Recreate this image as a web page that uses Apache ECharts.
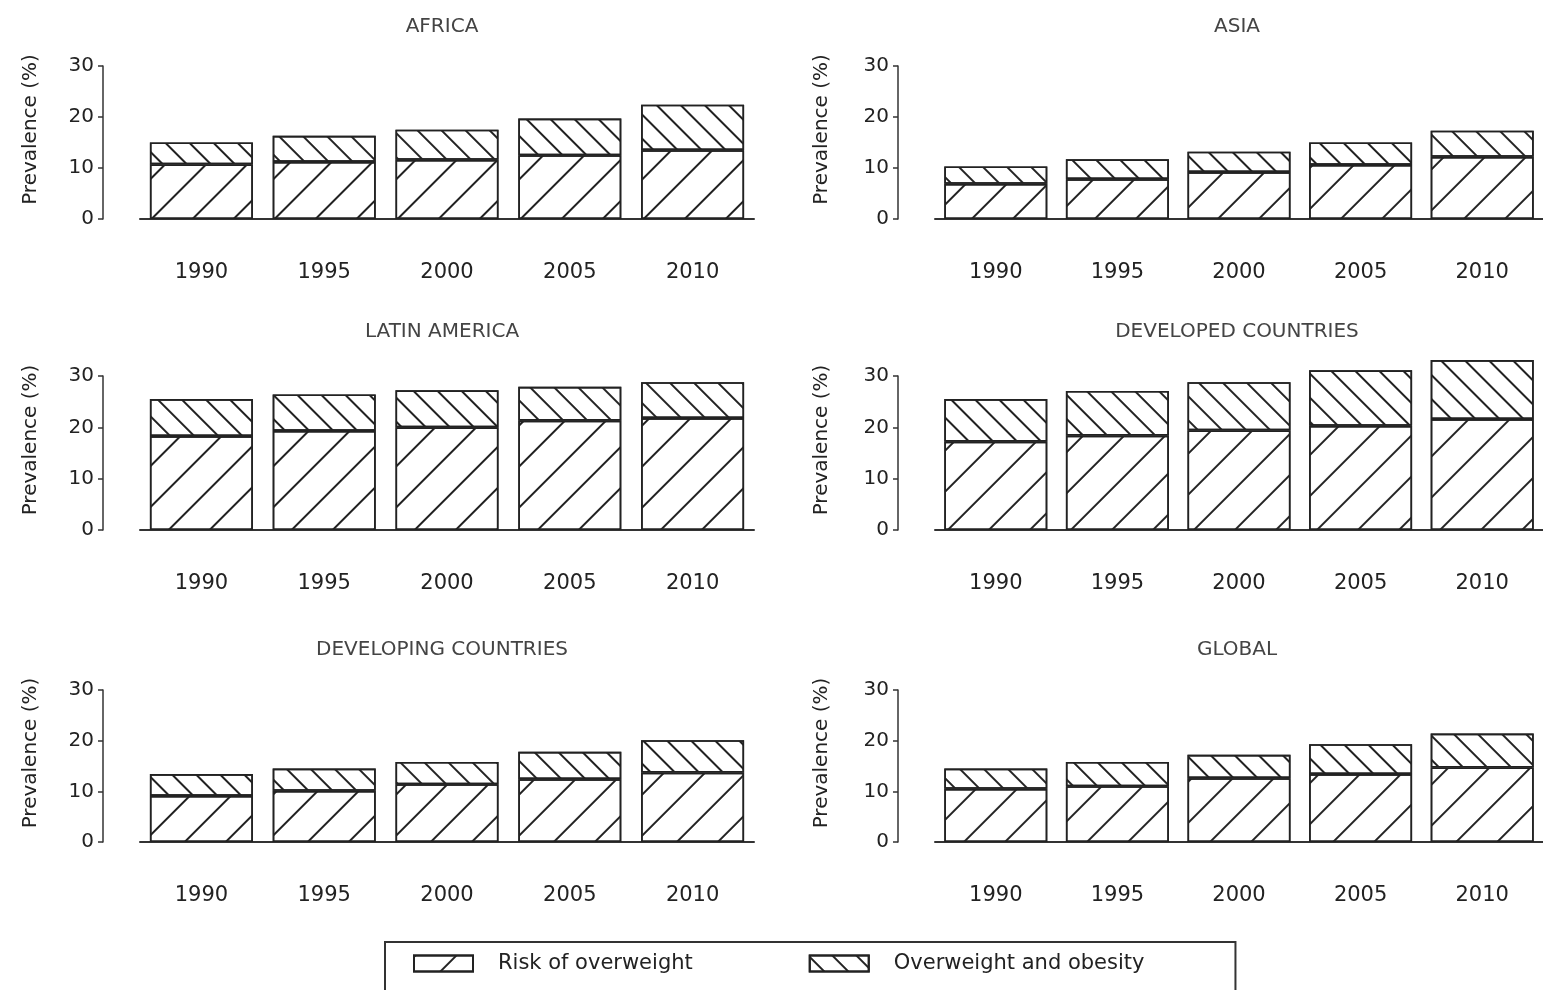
<!DOCTYPE html>
<html>
<head>
<meta charset="utf-8">
<script src="https://cdn.jsdelivr.net/npm/echarts@6/dist/echarts.min.js"></script>
<style>html,body{margin:0;padding:0;background:#fff}#c{width:1543px;height:990px}</style>
</head>
<body>
<div id="c"></div>
<script>
// ---- data ----
const years = ['1990', '1995', '2000', '2005', '2010'];
const regions = ['AFRICA', 'ASIA', 'LATIN AMERICA', 'DEVELOPED COUNTRIES', 'DEVELOPING COUNTRIES', 'GLOBAL'];
const seriesNames = ['Risk of overweight', 'Overweight and obesity'];
const yAxisTitle = 'Prevalence (%)';
const yMin = 0, yMax = 30, yInterval = 10;

const riskAfrica = [10.7, 11.2, 11.6, 12.5, 13.5];
const obeseAfrica = [4.3, 5.1, 5.9, 7.2, 8.9];
const riskAsia = [6.9, 7.8, 9.2, 10.6, 12.2];
const obeseAsia = [3.4, 3.9, 4.0, 4.4, 5.1];
const riskLatin = [18.3, 19.3, 20.0, 21.3, 21.8];
const obeseLatin = [7.2, 7.1, 7.2, 6.6, 7.0];
const riskDeveloped = [17.2, 18.4, 19.4, 20.3, 21.6];
const obeseDeveloped = [8.3, 8.7, 9.4, 10.8, 11.5];
const riskDeveloping = [9.1, 10.1, 11.4, 12.4, 13.7];
const obeseDeveloping = [4.3, 4.4, 4.4, 5.4, 6.4];
const riskGlobal = [10.5, 11.0, 12.6, 13.4, 14.7];
const obeseGlobal = [4.0, 4.8, 4.6, 5.9, 6.7];

const riskByRegion = [riskAfrica, riskAsia, riskLatin, riskDeveloped, riskDeveloping, riskGlobal];
const obeseByRegion = [obeseAfrica, obeseAsia, obeseLatin, obeseDeveloped, obeseDeveloping, obeseGlobal];

// ---- layout ----
const FONT = "'DejaVu Sans', sans-serif";
const colLeft = [140, 935];
const colWidth = [614, 612];
const colCenter = [442, 1237];
const rowTop = [66, 376, 690];
const rowHeight = [153, 154, 152];
const titleTop = [17, 322, 640];

const grids = [], xAxes = [], yAxes = [], series = [], titles = [];
regions.forEach((name, i) => {
  const col = i % 2, row = Math.floor(i / 2);
  grids.push({ left: colLeft[col], top: rowTop[row], width: colWidth[col], height: rowHeight[row] });
  titles.push({
    text: name, left: colCenter[col], top: titleTop[row], textAlign: 'center', padding: 0,
    textStyle: { fontFamily: FONT, fontSize: 20, fontWeight: 'normal', color: '#444' }
  });
  xAxes.push({
    type: 'category', gridIndex: i, data: years,
    axisLine: { show: true, lineStyle: { color: '#333', width: 2 } },
    axisTick: { show: false },
    axisLabel: { margin: 43, fontFamily: FONT, fontSize: 21, color: '#222' }
  });
  yAxes.push({
    type: 'value', gridIndex: i, min: yMin, max: yMax, interval: yInterval, offset: 37,
    name: yAxisTitle, nameLocation: 'middle', nameGap: col === 0 ? 62 : 66,
    nameTextStyle: { fontFamily: FONT, fontSize: 20, color: '#222', padding: [0, 0, 0, 26] },
    axisLine: { show: true, lineStyle: { color: '#333', width: 1.5 } },
    axisTick: { show: true, length: 5, lineStyle: { color: '#333', width: 1.5 } },
    axisLabel: { margin: 9, fontFamily: FONT, fontSize: 20, color: '#222' },
    splitLine: { show: false }
  });
  series.push({
    name: seriesNames[0], type: 'bar', stack: 's' + i, xAxisIndex: i, yAxisIndex: i,
    data: riskByRegion[i], barWidth: 103, clip: false,
    itemStyle: {
      color: '#fff', borderColor: '#222', borderWidth: 1.6,
      decal: { symbol: 'rect', symbolSize: 1, dashArrayX: [1, 0], dashArrayY: [2, 27], rotation: -Math.PI / 4, color: '#222' }
    },
    emphasis: { disabled: true }
  });
  series.push({
    name: seriesNames[1], type: 'bar', stack: 's' + i, xAxisIndex: i, yAxisIndex: i,
    data: obeseByRegion[i], barWidth: 103, clip: false,
    itemStyle: {
      color: '#fff', borderColor: '#222', borderWidth: 1.6,
      decal: { symbol: 'rect', symbolSize: 1, dashArrayX: [1, 0], dashArrayY: [2, 15], rotation: Math.PI / 4, color: '#222' }
    },
    emphasis: { disabled: true }
  });
});

const chart = echarts.init(document.getElementById('c'), null, { renderer: 'canvas' });
chart.setOption({
  animation: false,
  backgroundColor: '#fff',
  title: titles,
  grid: grids,
  xAxis: xAxes,
  yAxis: yAxes,
  series: series,
  legend: {
    data: seriesNames, left: 385, top: 942, orient: 'horizontal', icon: 'rect',
    itemWidth: 59, itemHeight: 16, itemGap: 116,
    padding: [11, 91, 30, 28],
    borderColor: '#333', borderWidth: 2,
    textStyle: { fontFamily: FONT, fontSize: 21, color: '#222', padding: [0, 0, 0, 20] }
  }
});
</script>
</body>
</html>
